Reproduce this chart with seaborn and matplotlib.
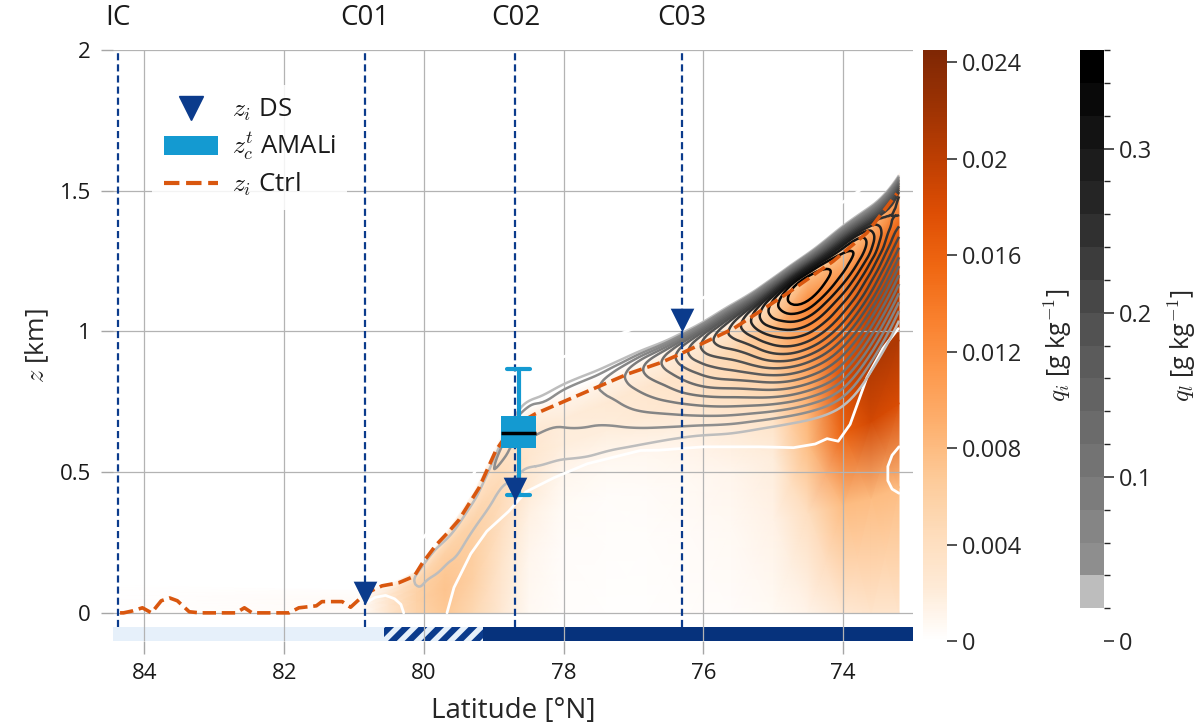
import numpy as np
import matplotlib
matplotlib.use("Agg")
import matplotlib.pyplot as plt
import matplotlib.tri as mtri
import matplotlib.transforms as mtransforms
import seaborn as sns
from matplotlib.colors import ListedColormap, BoundaryNorm, LinearSegmentedColormap
from matplotlib.cm import ScalarMappable
from matplotlib.lines import Line2D
from matplotlib.patches import Patch

# -------------------------------
# DATA
# -------------------------------
station_names = ["IC", "C01", "C02", "C03"]
station_lat = [84.38, 80.84, 78.69, 76.31]

# z_i from dropsondes
ds_lat = [80.84, 78.69, 76.31]
ds_zi = [0.07, 0.44, 1.04]

# AMALi cloud top height (box statistics)
amali_lat = 78.64
amali_stats = dict(whislo=0.42, q1=0.587, med=0.64, q3=0.698, whishi=0.865)

# z_i of the Ctrl simulation
ctrl_lat = [84.35, 84.3, 84.17, 84.03, 83.9, 83.76, 83.64, 83.53, 83.36, 83.21,
            82.69, 82.57, 82.46, 81.93, 81.79, 81.54, 81.46, 81.17, 81.05, 80.83,
            80.6, 80.36, 80.14, 80.03, 79.83, 79.64, 79.5, 79.21, 78.97, 78.74,
            78.4, 77.97, 77.54, 77.07, 76.6, 76.33, 75.57, 74.8, 74.14, 73.66, 73.23]
ctrl_zi = [0.0, 0.0, 0.007, 0.018, 0.0, 0.043, 0.053, 0.043, 0.004, 0.0,
           0.0, 0.018, 0.0, 0.0, 0.018, 0.025, 0.04, 0.04, 0.02, 0.07,
           0.096, 0.107, 0.13, 0.174, 0.24, 0.29, 0.33, 0.445, 0.577, 0.66,
           0.708, 0.754, 0.8, 0.85, 0.89, 0.92, 1.01, 1.135, 1.25, 1.35, 1.49]

# sea-ice classes along the transect
ice_edges = [84.45, 80.57, 79.15, 73.0]

# liquid water q_l: layer between cloud base and top, peak value per latitude
grid_lat = [80.6, 80.4, 80.2, 80.0, 79.8, 79.6, 79.4, 79.2, 79.0, 78.8, 78.6, 78.4,
            78.0, 77.6, 77.2, 76.8, 76.4, 76.0, 75.6, 75.2, 74.8, 74.4, 74.0, 73.6, 73.2]
cloud_base = [0.0, 0.0, 0.0, 0.0, 0.04, 0.08, 0.15, 0.24, 0.31, 0.36, 0.39, 0.41,
              0.43, 0.45, 0.5, 0.54, 0.57, 0.59, 0.6, 0.62, 0.64, 0.66, 0.7, 0.82, 1.0]
cloud_top = [0.10, 0.11, 0.13, 0.19, 0.25, 0.30, 0.37, 0.45, 0.56, 0.67, 0.75, 0.78,
             0.83, 0.87, 0.91, 0.95, 0.99, 1.04, 1.10, 1.16, 1.23, 1.30, 1.38, 1.45, 1.56]
ql_peak = [0.0, 0.0, 0.012, 0.027, 0.03, 0.03, 0.031, 0.035, 0.04, 0.045, 0.048, 0.05,
           0.052, 0.058, 0.075, 0.105, 0.14, 0.185, 0.225, 0.28, 0.34, 0.355, 0.33, 0.29, 0.25]
ql_frac = [0.0, 0.1, 0.2, 0.3, 0.4, 0.5, 0.6, 0.7, 0.78, 0.85, 0.91, 0.96, 1.0]
ql_shape = [0.0, 0.12, 0.26, 0.4, 0.54, 0.68, 0.8, 0.92, 0.99, 0.97, 0.75, 0.35, 0.0]

# ice water q_i at fractions of the local inversion height
qi_lat = [84.5, 80.9, 80.5, 80.1, 79.7, 79.3, 78.9, 78.5, 78.0, 77.4, 76.8, 76.2,
          75.6, 75.0, 74.5, 74.0, 73.6, 73.2]
qi_top = [0.1, 0.08, 0.1, 0.145, 0.27, 0.41, 0.6, 0.70, 0.75, 0.81, 0.875, 0.94,
          1.01, 1.10, 1.19, 1.28, 1.36, 1.49]
qi_frac = [0.0, 0.3, 0.5, 0.65, 0.8, 0.92, 1.0, 1.05]
qi_vals = [
    [0, 0, 0, 0, 0, 0, 0, 0],
    [0.0004, 0.0004, 0.0004, 0.0004, 0.0003, 0.0002, 0.0001, 0],
    [0.003, 0.003, 0.003, 0.0028, 0.0022, 0.0016, 0.001, 0],
    [0.0055, 0.0058, 0.0058, 0.0055, 0.005, 0.004, 0.0025, 0],
    [0.0068, 0.0072, 0.007, 0.0065, 0.0058, 0.0045, 0.0028, 0],
    [0.005, 0.006, 0.0062, 0.006, 0.0055, 0.0042, 0.0026, 0],
    [0.0025, 0.0032, 0.004, 0.0045, 0.0045, 0.0038, 0.0022, 0],
    [0.0007, 0.001, 0.0016, 0.0023, 0.0028, 0.0026, 0.0017, 0],
    [0.0002, 0.0003, 0.0005, 0.0009, 0.0019, 0.0021, 0.0013, 0],
    [0.0001, 0.0002, 0.0003, 0.0007, 0.0019, 0.0023, 0.0015, 0],
    [0.0001, 0.0002, 0.0004, 0.0009, 0.0024, 0.0029, 0.0018, 0],
    [0.0002, 0.0004, 0.0007, 0.0013, 0.003, 0.0035, 0.0022, 0],
    [0.0003, 0.0007, 0.0011, 0.0022, 0.0045, 0.005, 0.003, 0],
    [0.0006, 0.0014, 0.002, 0.0038, 0.0065, 0.008, 0.005, 0],
    [0.0013, 0.0042, 0.0078, 0.009, 0.011, 0.013, 0.008, 0],
    [0.0025, 0.008, 0.016, 0.018, 0.015, 0.0125, 0.0075, 0],
    [0.003, 0.008, 0.0185, 0.021, 0.0195, 0.015, 0.009, 0],
    [0.003, 0.008, 0.018, 0.021, 0.0205, 0.016, 0.01, 0],
]

# white contour lines
white_lat = [79.67, 79.57, 79.33, 79.1, 78.79, 78.54, 78.14, 77.66, 76.9, 76.64,
             76.0, 75.2, 74.71, 74.4, 74.23, 74.07, 73.9, 73.66, 73.43, 73.21]
white_z = [0.0, 0.09, 0.21, 0.29, 0.36, 0.43, 0.48, 0.53, 0.577, 0.578,
           0.59, 0.59, 0.587, 0.6, 0.619, 0.61, 0.67, 0.836, 0.94, 1.01]
arc_lat = [80.8, 80.7, 80.55, 80.42, 80.33, 80.29]
arc_z = [0.04, 0.055, 0.062, 0.05, 0.03, 0.0]
edge_lat = [73.2, 73.3, 73.36, 73.36, 73.3, 73.2]
edge_z = [0.59, 0.56, 0.52, 0.47, 0.44, 0.425]

qi_ticks = [0, 0.004, 0.008, 0.012, 0.016, 0.02, 0.024]
qi_ticklabels = ["0", "0.004", "0.008", "0.012", "0.016", "0.02", "0.024"]
ql_bounds = [0, 0.02, 0.04, 0.06, 0.08, 0.10, 0.12, 0.14, 0.16, 0.18, 0.20,
             0.22, 0.24, 0.26, 0.28, 0.30, 0.32, 0.34, 0.36]

# -------------------------------
# STYLE
# -------------------------------
navy = "#0b3b8c"
lightblue = "#149ad1"
orange = "#d9570f"
sns.set_theme(style="whitegrid")
plt.rcParams["font.family"] = ["Open Sans", "DejaVu Sans"]
plt.rcParams["mathtext.fontset"] = "cm"
plt.rcParams["hatch.linewidth"] = 4.5
plt.rcParams["text.color"] = "#1a1a1a"

fig = plt.figure(figsize=(12.04, 7.28), dpi=100)
ax = fig.add_axes([0.0939, 0.1195, 0.6644, 0.8118])
cax_i = fig.add_axes([0.7666, 0.1195, 0.0199, 0.8118])
cax_l = fig.add_axes([0.897, 0.1195, 0.0199, 0.8118])

# q_i field
orng = plt.cm.Oranges
stops = np.linspace(0, 1, 12)
cmap_i = LinearSegmentedColormap.from_list("qi", [(0, "white")] + [(s, orng(s)) for s in stops[1:]])
qv = np.array(qi_vals).T
Zq = np.vstack([np.outer(qi_frac, qi_top), np.full(len(qi_lat), 2.05)])
Cq = np.vstack([qv, np.zeros(len(qi_lat))])
Xq = np.tile(qi_lat, (Zq.shape[0], 1))
mesh = ax.pcolormesh(Xq, Zq, Cq, shading="gouraud", cmap=cmap_i, vmin=0, vmax=0.0245, zorder=1)

# q_l contours (layer-following grid, smoothed by the triangulation refiner)
glat = np.array(grid_lat)
base = np.array(cloud_base)
top = np.array(cloud_top)
Xl = np.repeat(glat[:, None], len(ql_frac), axis=1)
Zl = base[:, None] + np.array(ql_frac)[None, :] * (top - base)[:, None]
Ql = np.outer(ql_peak, ql_shape)
nl, nf = Xl.shape
tris = []
for i in range(nl - 1):
    for j in range(nf - 1):
        a = i * nf + j
        tris += [[a, a + nf, a + 1], [a + 1, a + nf, a + nf + 1]]
tri = mtri.Triangulation(Xl.ravel(), Zl.ravel(), tris)
tri_f, ql_f = mtri.UniformTriRefiner(tri).refine_field(Ql.ravel(), subdiv=3)
greys = [plt.cm.Greys(0.375)] + list(plt.cm.Greys(np.linspace(0.53, 1.0, 16)))
ax.tricontour(tri_f, ql_f, levels=ql_bounds[1:-1], colors=greys, linewidths=1.8, zorder=3)

# white lines
for xs, ys in [(white_lat, white_z), (arc_lat, arc_z), (edge_lat, edge_z)]:
    ax.plot(xs, ys, color="white", lw=2.0, zorder=2.8)
ax.plot(grid_lat, top + 0.08, color="white", lw=2.0, zorder=2.7)

# sea-ice bar
ax.axvspan(ice_edges[0], ice_edges[1], ymin=0, ymax=0.024, color="#e6f0fa", lw=0, zorder=2)
ax.axvspan(ice_edges[1], ice_edges[2], ymin=0, ymax=0.024, facecolor="#e6f0fa",
           edgecolor=navy, hatch="//", lw=0, zorder=2)
ax.axvspan(ice_edges[2], ice_edges[3], ymin=0, ymax=0.024, color="#06327c", lw=0, zorder=2)

# stations
for lat in station_lat:
    ax.axvline(lat, ymin=0.024, ymax=1, color=navy, lw=1.6, ls=(0, (3.2, 1.8)), zorder=3.5)
trans = mtransforms.blended_transform_factory(ax.transData, ax.transAxes)
for name, lat in zip(station_names, station_lat):
    ax.text(lat, 1.055, name, transform=trans, ha="center", va="center", fontsize=20)

# Ctrl inversion height
sns.lineplot(x=ctrl_lat, y=ctrl_zi, ax=ax, sort=False, estimator=None, color=orange,
             lw=2.6, linestyle="--", zorder=4)

# AMALi box
ax.bxp([amali_stats], positions=[amali_lat], widths=0.5, capwidths=0.33, patch_artist=True,
       showfliers=False, manage_ticks=False, zorder=5,
       boxprops=dict(facecolor=lightblue, edgecolor=lightblue, lw=0),
       whiskerprops=dict(color=lightblue, lw=3), capprops=dict(color=lightblue, lw=3),
       medianprops=dict(color="black", lw=2.5))

# dropsondes
sns.scatterplot(x=ds_lat, y=ds_zi, ax=ax, marker="v", s=290, color=navy, linewidth=0,
                zorder=6, legend=False)

# axes cosmetics
ax.set_xlim(84.45, 73.0)
ax.set_ylim(-0.1, 2.0)
ax.set_xticks([84, 82, 80, 78, 76, 74])
ax.set_yticks([0, 0.5, 1, 1.5, 2])
ax.set_yticklabels(["0", "0.5", "1", "1.5", "2"])
ax.grid(True, color="#b3b3b3", lw=0.9)
ax.set_axisbelow(False)
for s in ax.spines.values():
    s.set_visible(False)
ax.tick_params(axis="both", bottom=True, left=True, direction="out", length=9, width=1,
               color="#a6a6a6", labelsize=16, labelcolor="#1a1a1a", pad=7)
ax.set_xlabel("Latitude [°N]", fontsize=20, labelpad=9)
ax.set_ylabel(r"$z$ [km]", fontsize=19, labelpad=6)
ax.set_facecolor("white")

handles = [Line2D([], [], marker="v", ms=17, color=navy, ls="none"),
           Patch(facecolor=lightblue, edgecolor="none"),
           Line2D([], [], color=orange, ls="--", lw=3)]
labels = [r"$z_i$ DS", r"$z_c^t$ AMALi", r"$z_i$ Ctrl"]
leg = ax.legend(handles, labels, loc="upper left", bbox_to_anchor=(0.033, 0.962), fontsize=18.5,
                frameon=True, framealpha=0.85, facecolor="white", edgecolor="none",
                handlelength=2.1, handleheight=0.75, handletextpad=0.55, labelspacing=0.3,
                borderpad=0.45)
leg.set_zorder(10)

# colorbars
cb_i = fig.colorbar(mesh, cax=cax_i, ticks=qi_ticks)
cb_i.set_ticklabels(qi_ticklabels)
cb_i.outline.set_visible(False)
cb_i.ax.tick_params(right=True, length=7, width=1.2, color="#333333", labelsize=17, pad=4)
cb_i.set_label(r"$q_i$ [g kg$^{-1}$]", fontsize=18, labelpad=14)
cax_i.grid(False)

sm = ScalarMappable(norm=BoundaryNorm(ql_bounds, len(ql_bounds) - 1),
                    cmap=ListedColormap(["white"] + greys))
cb_l = fig.colorbar(sm, cax=cax_l, ticks=[0, 0.1, 0.2, 0.3], spacing="proportional")
cb_l.set_ticklabels(["0", "0.1", "0.2", "0.3"])
cb_l.outline.set_visible(False)
cb_l.ax.tick_params(right=True, length=7, width=1.2, color="#333333", labelsize=17, pad=4)
cb_l.set_label(r"$q_l$ [g kg$^{-1}$]", fontsize=18, labelpad=10)
cax_l.grid(False)

fig.savefig("out.png", dpi=100)
